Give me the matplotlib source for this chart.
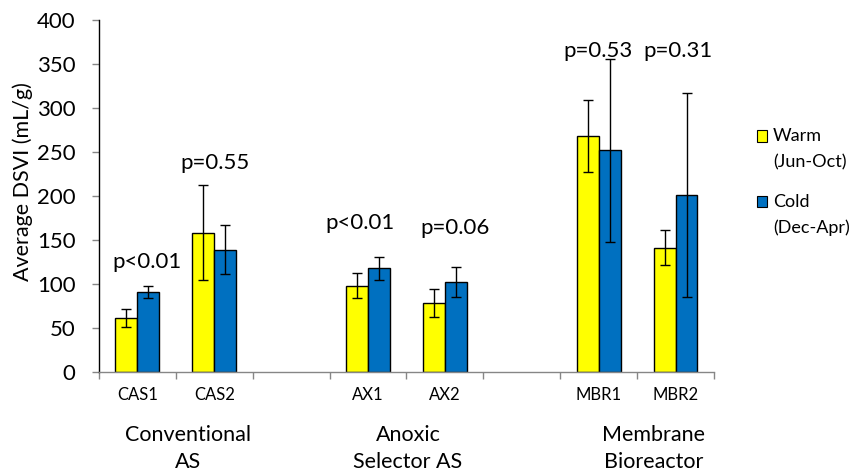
import matplotlib
matplotlib.use("Agg")
import matplotlib.pyplot as plt
from matplotlib.patches import Rectangle
import numpy as np

plt.rcParams['font.family'] = ['Lato', 'DejaVu Sans']

# dados
reatores = ['CAS1', 'CAS2', '', 'AX1', 'AX2', '', 'MBR1', 'MBR2']
quente = [61, 158, np.nan, 98, 78, np.nan, 268, 141]
quente_err = [10, 54, np.nan, 14, 16, np.nan, 41, 20]
frio = [91, 139, np.nan, 118, 102, np.nan, 252, 201]
frio_err = [7, 28, np.nan, 13, 17, np.nan, 104, 116]
p_valores = ['p<0.01', 'p=0.55', '', 'p<0.01', 'p=0.06', '', 'p=0.53', 'p=0.31']
p_pos_x = [0.13, 1.01, None, 2.89, 4.13, None, 5.99, 7.03]
p_pos_y = [125, 237, None, 169, 164, None, 365, 365]
grupos = [('Conventional', 'AS'), ('Anoxic', 'Selector AS'), ('Membrane', 'Bioreactor')]
grupos_x = [0.66, 3.52, 6.72]

AMARELO = '#FFFF00'
AZUL = '#0070C0'
CINZA = '#868686'

fig = plt.figure(figsize=(8.53, 4.75), dpi=100)
ax = fig.add_axes([0.116, 0.217, 0.721, 0.741])

x = np.arange(len(reatores))
w = 1 / 3.5
err_kw = dict(ecolor='black', elinewidth=1.0, capsize=3.5, capthick=1.0)
ax.bar(x - w / 2, quente, w, yerr=quente_err, color=AMARELO, edgecolor='black',
       linewidth=1.0, error_kw=err_kw, zorder=2)
ax.bar(x + w / 2, frio, w, yerr=frio_err, color=AZUL, edgecolor='black',
       linewidth=1.0, error_kw=err_kw, zorder=2)

ax.set_xlim(-0.5, len(reatores) - 0.5)
ax.set_ylim(0, 400)
ax.set_yticks(range(0, 401, 50))
ax.tick_params(axis='y', labelsize=16, length=5, width=1, color=CINZA, pad=12)
ax.set_xticks(x)
ax.set_xticklabels(reatores, fontsize=12)
ax.tick_params(axis='x', length=0, pad=11)
ax.set_xticks(np.arange(-0.5, len(reatores)), minor=True)
ax.tick_params(axis='x', which='minor', length=5, width=1, color=CINZA)

for lado in ['top', 'right']:
    ax.spines[lado].set_visible(False)
for lado in ['left', 'bottom']:
    ax.spines[lado].set_color(CINZA)
    ax.spines[lado].set_linewidth(1.0)
ax.spines['left'].set_color('black')

ax.set_ylabel('Average DSVI (mL/g)', fontsize=15.5)
ax.yaxis.set_label_coords(-0.108, 0.54)

for txt, px, py in zip(p_valores, p_pos_x, p_pos_y):
    if txt:
        ax.text(px, py, txt, ha='center', va='center', fontsize=16)

trans = ax.get_xaxis_transform()
for (l1, l2), gx in zip(grupos, grupos_x):
    ax.text(gx, -0.179, l1, ha='center', va='center', fontsize=15.5, transform=trans)
    ax.text(gx, -0.256, l2, ha='center', va='center', fontsize=15.5, transform=trans)

# legenda manual
legenda = [('Warm', '(Jun-Oct)', AMARELO, 136), ('Cold', '(Dec-Apr)', AZUL, 202)]
for l1, l2, cor, ypx in legenda:
    yf = 1 - ypx / 475
    fig.patches.append(Rectangle((757 / 853, yf - 5.5 / 475), 10 / 853, 11 / 475,
                                 facecolor=cor, edgecolor='black', linewidth=0.8,
                                 transform=fig.transFigure, figure=fig))
    fig.text(773 / 853, yf, l1, ha='left', va='center', fontsize=13)
    fig.text(773 / 853, yf - 26 / 475, l2, ha='left', va='center', fontsize=13)

fig.savefig('out.png', dpi=100)
